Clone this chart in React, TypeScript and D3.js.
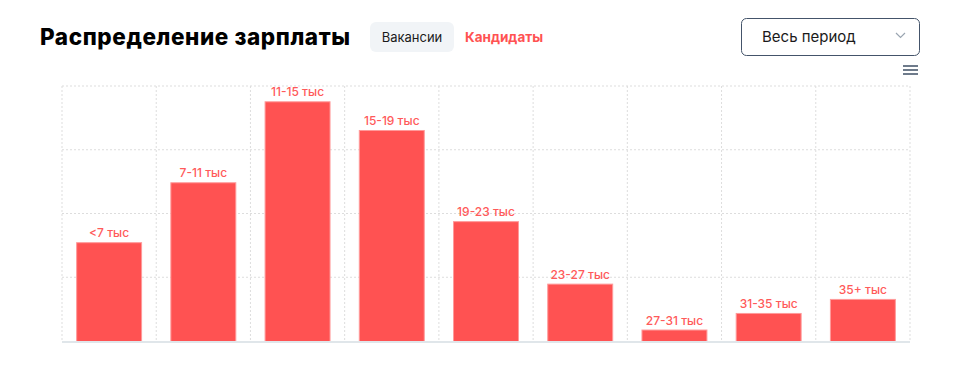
import React from "react";
import * as d3 from "d3";

const categories = ["<7 тыс", "7-11 тыс", "11-15 тыс", "15-19 тыс", "19-23 тыс", "23-27 тыс", "27-31 тыс", "31-35 тыс", "35+ тыс"];
const values = [155, 249, 376, 331, 188, 90, 18, 44, 66];
const yTicks = [0, 100, 200, 300, 400];

const W = 954, H = 378;
const plot = { left: 62, right: 910, top: 86, bottom: 341 };
const RED = "#FF5252";

export default function App() {
  const x = d3.scaleBand<string>().domain(categories).range([plot.left, plot.right]).paddingInner(0.3).paddingOuter(0.15);
  const xg = d3.scaleBand<string>().domain(categories).range([plot.left, plot.right]).padding(0);
  const y = d3.scaleLinear().domain([0, 400]).range([plot.bottom, plot.top]);
  const font = "Inter, 'Noto Sans', sans-serif";
  return (
    <svg width={W} height={H} style={{ position: "absolute", left: 0, top: 0, background: "#fff" }} fontFamily={font}>
      <text x={40} y={45} fontSize={22.5} fontWeight={800} fill="#000" letterSpacing={0.6}>Распределение зарплаты</text>
      <rect x={370} y={22} width={84} height={30} rx={6} fill="#F1F4F7" />
      <text x={412} y={41.5} fontSize={13} textAnchor="middle" fill="#1a1a1a">Вакансии</text>
      <text x={465} y={41.5} fontSize={13.5} fontWeight={700} fill={RED}>Кандидаты</text>
      <rect x={741.5} y={18.5} width={178} height={37} rx={5} fill="#fff" stroke="#44546A" strokeWidth={1} />
      <text x={762} y={42} fontSize={15} fill="#1a1a1a">Весь период</text>
      <path d="M896,33 L900.5,37.5 L905,33" fill="none" stroke="#9AA5B1" strokeWidth={1.2} />
      {[66, 70, 74].map((yy) => (
        <line key={yy} x1={903} x2={918} y1={yy} y2={yy} stroke="#6E7B8B" strokeWidth={2} />
      ))}
      {yTicks.slice(1).map((t) => (
        <line key={"h" + t} x1={plot.left} x2={plot.right} y1={y(t)} y2={y(t)} stroke="#DDDDDD" strokeWidth={1} strokeDasharray="2,2" />
      ))}
      {categories.map((c) => (
        <line key={"v" + c} x1={xg(c)!} x2={xg(c)!} y1={plot.top} y2={plot.bottom} stroke="#DDDDDD" strokeWidth={1} strokeDasharray="2,2" />
      ))}
      <line x1={plot.right} x2={plot.right} y1={plot.top} y2={plot.bottom} stroke="#DDDDDD" strokeWidth={1} strokeDasharray="2,2" />
      {categories.map((c, i) => (
        <g key={c}>
          <rect x={x(c)! + 0.5} y={y(values[i]) + 0.5} width={x.bandwidth() - 1} height={y(0) - y(values[i])} fill={RED} stroke="#FF9A9A" strokeWidth={1} />
          <text x={x(c)! + x.bandwidth() / 2} y={y(values[i]) - 5} fontSize={12} fontWeight={500} textAnchor="middle" fill="#FF5A5A">{c}</text>
        </g>
      ))}
      <line x1={plot.left} x2={plot.right} y1={plot.bottom + 1} y2={plot.bottom + 1} stroke="#E0E6EA" strokeWidth={2} />
    </svg>
  );
}
